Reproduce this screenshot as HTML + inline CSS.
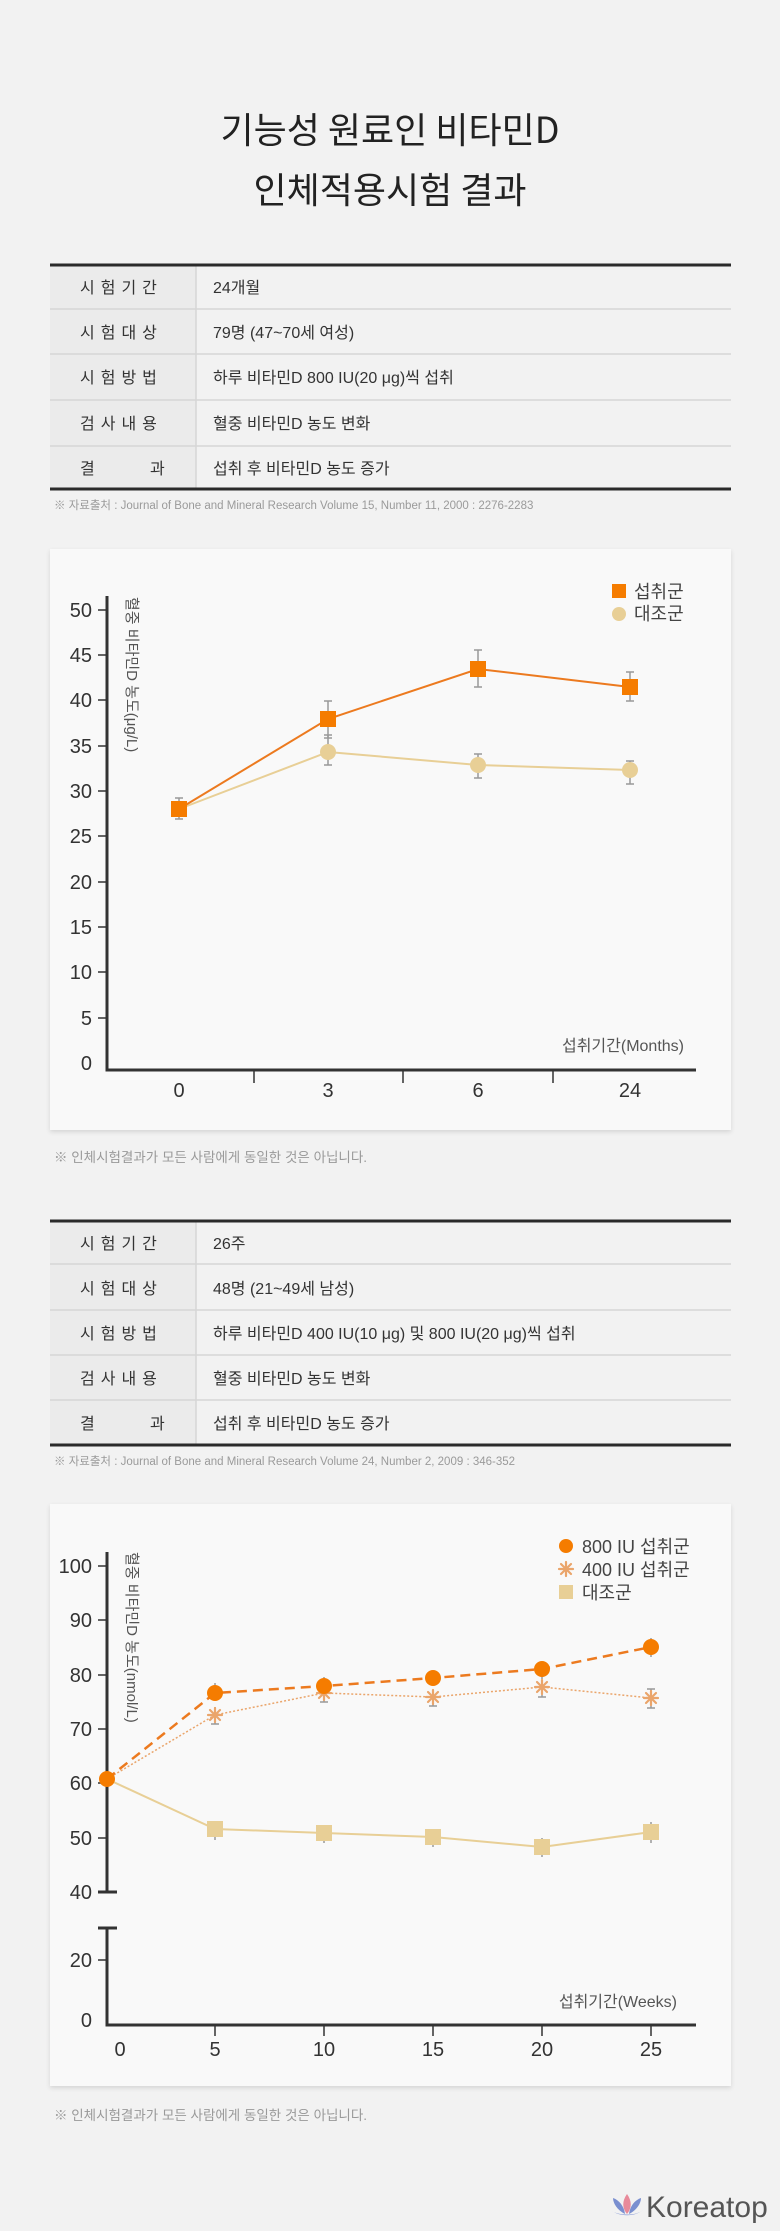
<!DOCTYPE html>
<html><head><meta charset="utf-8"><style>
html,body{margin:0;padding:0;background:#f2f2f2;}
svg{display:block;font-family:"Liberation Sans","Noto Sans CJK KR",sans-serif;}
</style></head><body>
<svg width="780" height="2231" viewBox="0 0 780 2231" xmlns="http://www.w3.org/2000/svg">
<defs><filter id="sh" x="-5%" y="-5%" width="110%" height="110%"><feDropShadow dx="0" dy="2" stdDeviation="2" flood-color="#000" flood-opacity="0.12"/></filter>
<g id="st" stroke="#eaa56b" stroke-width="2.2" stroke-linecap="round"><line x1="-7" y1="0" x2="7" y2="0"/><line x1="0" y1="-7" x2="0" y2="7"/><line x1="-5" y1="-5" x2="5" y2="5"/><line x1="-5" y1="5" x2="5" y2="-5"/></g></defs>
<rect width="780" height="2231" fill="#f2f2f2"/>
<g font-family="'Noto Sans CJK KR',sans-serif" font-size="36" font-weight="400" fill="#222" text-anchor="middle">
<text x="390" y="143">기능성 원료인 비타민D</text>
<text x="390" y="203">인체적용시험 결과</text>
</g>

<rect x="50" y="265" width="146" height="224" fill="#ebebeb"/>
<g stroke="#d6d6d6" stroke-width="1.5"><line x1="50" y1="309" x2="731" y2="309"/><line x1="50" y1="354" x2="731" y2="354"/><line x1="50" y1="400" x2="731" y2="400"/><line x1="50" y1="446" x2="731" y2="446"/><line x1="196" y1="265" x2="196" y2="489"/></g>
<g stroke="#2a2a2a" stroke-width="3"><line x1="50" y1="265" x2="731" y2="265"/><line x1="50" y1="489" x2="731" y2="489"/></g>
<g font-size="16" fill="#333">
<text x="80" y="293" letter-spacing="6">시험기간</text><text x="213" y="293">24개월</text>
<text x="80" y="338" letter-spacing="6">시험대상</text><text x="213" y="338">79명 (47~70세 여성)</text>
<text x="80" y="383" letter-spacing="6">시험방법</text><text x="213" y="383">하루 비타민D 800 IU(20 μg)씩 섭취</text>
<text x="80" y="429" letter-spacing="6">검사내용</text><text x="213" y="429">혈중 비타민D 농도 변화</text>
<text x="80" y="474">결</text><text x="150" y="474">과</text><text x="213" y="474">섭취 후 비타민D 농도 증가</text>
</g>
<text x="54" y="509" font-size="11.5" fill="#9a9a9a">※ 자료출처 : Journal of Bone and Mineral Research Volume 15, Number 11, 2000 : 2276-2283</text>

<rect x="50" y="549" width="681" height="581" fill="#f9f9f9" filter="url(#sh)"/>
<g stroke="#333" stroke-width="3" fill="none"><polyline points="107,596 107,1070 696,1070"/></g>
<g stroke="#333" stroke-width="1.5">
<line x1="98" y1="610" x2="107" y2="610"/><line x1="98" y1="655" x2="107" y2="655"/><line x1="98" y1="700" x2="107" y2="700"/><line x1="98" y1="746" x2="107" y2="746"/><line x1="98" y1="791" x2="107" y2="791"/><line x1="98" y1="836" x2="107" y2="836"/><line x1="98" y1="882" x2="107" y2="882"/><line x1="98" y1="927" x2="107" y2="927"/><line x1="98" y1="972" x2="107" y2="972"/><line x1="98" y1="1018" x2="107" y2="1018"/>
<line x1="254" y1="1070" x2="254" y2="1083"/><line x1="403" y1="1070" x2="403" y2="1083"/><line x1="553" y1="1070" x2="553" y2="1083"/></g>
<g font-size="20" fill="#333" text-anchor="end">
<text x="92" y="617">50</text><text x="92" y="662">45</text><text x="92" y="707">40</text><text x="92" y="753">35</text><text x="92" y="798">30</text><text x="92" y="843">25</text><text x="92" y="889">20</text><text x="92" y="934">15</text><text x="92" y="979">10</text><text x="92" y="1025">5</text><text x="92" y="1070">0</text></g>
<g font-size="20" fill="#333" text-anchor="middle"><text x="179" y="1097">0</text><text x="328" y="1097">3</text><text x="478" y="1097">6</text><text x="630" y="1097">24</text></g>
<text transform="translate(127,597) rotate(90)" font-size="15" fill="#555">혈중 비타민D 농도(μg/L)</text>
<text x="684" y="1051" font-size="16" fill="#555" text-anchor="end">섭취기간(Months)</text>
<g stroke="#999" stroke-width="1.5">
<line x1="179" y1="798" x2="179" y2="819"/><line x1="175" y1="798" x2="183" y2="798"/><line x1="175" y1="819" x2="183" y2="819"/>
<line x1="328" y1="701" x2="328" y2="738"/><line x1="324" y1="701" x2="332" y2="701"/><line x1="324" y1="738" x2="332" y2="738"/>
<line x1="478" y1="650" x2="478" y2="687"/><line x1="474" y1="650" x2="482" y2="650"/><line x1="474" y1="687" x2="482" y2="687"/>
<line x1="630" y1="672" x2="630" y2="701"/><line x1="626" y1="672" x2="634" y2="672"/><line x1="626" y1="701" x2="634" y2="701"/>
<line x1="328" y1="735" x2="328" y2="765"/><line x1="324" y1="735" x2="332" y2="735"/><line x1="324" y1="765" x2="332" y2="765"/>
<line x1="478" y1="754" x2="478" y2="778"/><line x1="474" y1="754" x2="482" y2="754"/><line x1="474" y1="778" x2="482" y2="778"/>
<line x1="630" y1="761" x2="630" y2="784"/><line x1="626" y1="761" x2="634" y2="761"/><line x1="626" y1="784" x2="634" y2="784"/>
</g>
<polyline points="179,809 328,752 478,765 630,770" fill="none" stroke="#e8cf96" stroke-width="2"/>
<g fill="#e8cf96"><circle cx="328" cy="752" r="8"/><circle cx="478" cy="765" r="8"/><circle cx="630" cy="770" r="8"/></g>
<polyline points="179,809 328,719 478,669 630,687" fill="none" stroke="#ec7a1f" stroke-width="2"/>
<g fill="#f57c00"><rect x="171" y="801" width="16" height="16"/><rect x="320" y="711" width="16" height="16"/><rect x="470" y="661" width="16" height="16"/><rect x="622" y="679" width="16" height="16"/></g>
<rect x="612" y="584" width="14" height="14" fill="#f57c00"/>
<circle cx="619" cy="614" r="7" fill="#e8cf96"/>
<g font-size="18" fill="#444"><text x="634" y="598">섭취군</text><text x="634" y="620">대조군</text></g>
<text x="54" y="1162" font-size="13.5" fill="#999">※ 인체시험결과가 모든 사람에게 동일한 것은 아닙니다.</text>

<rect x="50" y="1221" width="146" height="224" fill="#ebebeb"/>
<g stroke="#d6d6d6" stroke-width="1.5"><line x1="50" y1="1264" x2="731" y2="1264"/><line x1="50" y1="1310" x2="731" y2="1310"/><line x1="50" y1="1355" x2="731" y2="1355"/><line x1="50" y1="1400" x2="731" y2="1400"/><line x1="196" y1="1221" x2="196" y2="1445"/></g>
<g stroke="#2a2a2a" stroke-width="3"><line x1="50" y1="1221" x2="731" y2="1221"/><line x1="50" y1="1445" x2="731" y2="1445"/></g>
<g font-size="16" fill="#333">
<text x="80" y="1249" letter-spacing="6">시험기간</text><text x="213" y="1249">26주</text>
<text x="80" y="1294" letter-spacing="6">시험대상</text><text x="213" y="1294">48명 (21~49세 남성)</text>
<text x="80" y="1339" letter-spacing="6">시험방법</text><text x="213" y="1339">하루 비타민D 400 IU(10 μg) 및 800 IU(20 μg)씩 섭취</text>
<text x="80" y="1384" letter-spacing="6">검사내용</text><text x="213" y="1384">혈중 비타민D 농도 변화</text>
<text x="80" y="1429">결</text><text x="150" y="1429">과</text><text x="213" y="1429">섭취 후 비타민D 농도 증가</text>
</g>
<text x="54" y="1465" font-size="11.5" fill="#9a9a9a">※ 자료출처 : Journal of Bone and Mineral Research Volume 24, Number 2, 2009 : 346-352</text>

<rect x="50" y="1504" width="681" height="582" fill="#f9f9f9" filter="url(#sh)"/>
<g stroke="#333" stroke-width="3" fill="none">
<line x1="107" y1="1552" x2="107" y2="1892"/><line x1="98" y1="1892" x2="117" y2="1892"/>
<line x1="98" y1="1928" x2="117" y2="1928"/><polyline points="107,1928 107,2025 696,2025"/></g>
<g stroke="#333" stroke-width="1.5">
<line x1="98" y1="1566" x2="107" y2="1566"/><line x1="98" y1="1620" x2="107" y2="1620"/><line x1="98" y1="1675" x2="107" y2="1675"/><line x1="98" y1="1729" x2="107" y2="1729"/><line x1="98" y1="1783" x2="107" y2="1783"/><line x1="98" y1="1838" x2="107" y2="1838"/><line x1="98" y1="1960" x2="107" y2="1960"/>
<line x1="215" y1="2025" x2="215" y2="2036"/><line x1="324" y1="2025" x2="324" y2="2036"/><line x1="433" y1="2025" x2="433" y2="2036"/><line x1="542" y1="2025" x2="542" y2="2036"/><line x1="651" y1="2025" x2="651" y2="2036"/></g>
<g font-size="20" fill="#333" text-anchor="end">
<text x="92" y="1573">100</text><text x="92" y="1627">90</text><text x="92" y="1682">80</text><text x="92" y="1736">70</text><text x="92" y="1790">60</text><text x="92" y="1845">50</text><text x="92" y="1899">40</text><text x="92" y="1967">20</text><text x="92" y="2027">0</text></g>
<g font-size="20" fill="#333" text-anchor="middle"><text x="120" y="2056">0</text><text x="215" y="2056">5</text><text x="324" y="2056">10</text><text x="433" y="2056">15</text><text x="542" y="2056">20</text><text x="651" y="2056">25</text></g>
<text transform="translate(127,1552) rotate(90)" font-size="15" fill="#555">혈중 비타민D 농도(nmol/L)</text>
<text x="677" y="2007" font-size="16" fill="#555" text-anchor="end">섭취기간(Weeks)</text>
<g stroke="#999" stroke-width="1.5">
<line x1="215" y1="1683" x2="215" y2="1699"/><line x1="215" y1="1707" x2="215" y2="1724"/><line x1="211" y1="1724" x2="219" y2="1724"/><line x1="215" y1="1821" x2="215" y2="1840"/>
<line x1="324" y1="1677" x2="324" y2="1688"/><line x1="324" y1="1686" x2="324" y2="1702"/><line x1="320" y1="1702" x2="328" y2="1702"/><line x1="324" y1="1825" x2="324" y2="1843"/>
<line x1="433" y1="1671" x2="433" y2="1682"/><line x1="433" y1="1690" x2="433" y2="1706"/><line x1="429" y1="1706" x2="437" y2="1706"/><line x1="433" y1="1829" x2="433" y2="1847"/>
<line x1="542" y1="1662" x2="542" y2="1679"/><line x1="542" y1="1680" x2="542" y2="1697"/><line x1="538" y1="1697" x2="546" y2="1697"/><line x1="542" y1="1838" x2="542" y2="1857"/>
<line x1="651" y1="1638" x2="651" y2="1657"/><line x1="651" y1="1689" x2="651" y2="1708"/><line x1="647" y1="1689" x2="655" y2="1689"/><line x1="647" y1="1708" x2="655" y2="1708"/><line x1="651" y1="1822" x2="651" y2="1843"/>
</g>
<polyline points="107,1779 215,1829 324,1833 433,1837 542,1847 651,1832" fill="none" stroke="#e8cf96" stroke-width="2"/>
<g fill="#e8cf96"><rect x="207" y="1821" width="16" height="16"/><rect x="316" y="1825" width="16" height="16"/><rect x="425" y="1829" width="16" height="16"/><rect x="534" y="1839" width="16" height="16"/><rect x="643" y="1824" width="16" height="16"/></g>
<polyline points="107,1779 215,1715 324,1693 433,1697 542,1687 651,1698" fill="none" stroke="#eaa56b" stroke-width="1.5" stroke-dasharray="2,2"/>
<use href="#st" x="215" y="1715"/><use href="#st" x="324" y="1693"/><use href="#st" x="433" y="1697"/><use href="#st" x="542" y="1687"/><use href="#st" x="651" y="1698"/>
<polyline points="107,1779 215,1693 324,1686 433,1678 542,1669 651,1647" fill="none" stroke="#ec7a1f" stroke-width="2.5" stroke-dasharray="10,6"/>
<g fill="#f57c00"><circle cx="107" cy="1779" r="8"/><circle cx="215" cy="1693" r="8"/><circle cx="324" cy="1686" r="8"/><circle cx="433" cy="1678" r="8"/><circle cx="542" cy="1669" r="8"/><circle cx="651" cy="1647" r="8"/></g>
<circle cx="566" cy="1546" r="7" fill="#f57c00"/>
<use href="#st" x="566" y="1569"/>
<rect x="559" y="1585" width="14" height="14" fill="#e8cf96"/>
<g font-size="18" fill="#444"><text x="582" y="1553">800 IU 섭취군</text><text x="582" y="1576">400 IU 섭취군</text><text x="582" y="1599">대조군</text></g>
<text x="54" y="2120" font-size="13.5" fill="#999">※ 인체시험결과가 모든 사람에게 동일한 것은 아닙니다.</text>

<g transform="translate(627,2206)">
<path d="M0,-12 C-5,-5 -5,2 0,8 C5,2 5,-5 0,-12Z" fill="#e88a9a"/>
<path d="M-2,8 C-10,4 -14,-3 -14,-8 C-8,-6 -3,0 -2,8Z" fill="#7a8fd0"/>
<path d="M2,8 C10,4 14,-3 14,-8 C8,-6 3,0 2,8Z" fill="#7a8fd0"/>
<path d="M-16,4 C-10,10 10,10 16,4 C8,11 -8,11 -16,4Z" fill="#8fa0d8"/>
</g>
<text x="646" y="2217" font-size="30" fill="#555">Koreatop</text>
</svg>
</body></html>
